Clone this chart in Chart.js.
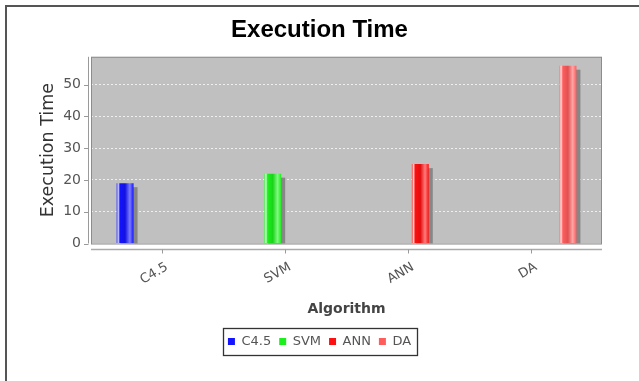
<!DOCTYPE html>
<html><head><meta charset="utf-8">
<script src="https://cdn.jsdelivr.net/npm/chart.js@4.4.0/dist/chart.umd.min.js"></script>
<style>html,body{margin:0;padding:0;background:#fff;overflow:hidden;}</style>
</head><body>
<canvas id="c" width="639" height="381"></canvas>
<script>
// ---- data ----
const categories = ['C4.5', 'SVM', 'ANN', 'DA'];
const executionTime = [19, 22, 25, 56];
const yTickValues = [0, 10, 20, 30, 40, 50];
const seriesColors = ['#1414ff', '#1cf01c', '#ff1010', '#ff5c5c'];

function hexToRgb(h) {
  h = h.replace('#', '');
  return [parseInt(h.substr(0, 2), 16), parseInt(h.substr(2, 2), 16), parseInt(h.substr(4, 2), 16)];
}
function mix(hex, target, t) {
  const c = hexToRgb(hex);
  const r = c.map((v, i) => Math.round(v + (target[i] - v) * t));
  return 'rgb(' + r.join(',') + ')';
}
function barGradient(ctx, left, right, color) {
  const g = ctx.createLinearGradient(left, 0, right, 0);
  g.addColorStop(0, mix(color, [255, 255, 255], 0.15));
  g.addColorStop(0.1, mix(color, [255, 255, 255], 0.8));
  g.addColorStop(0.2, color);
  g.addColorStop(0.5, mix(color, [0, 0, 0], 0.12));
  g.addColorStop(0.78, mix(color, [255, 255, 255], 0.45));
  g.addColorStop(1, color);
  return g;
}

const datasets = categories.map((name, i) => ({
  label: name,
  data: [{ x: i, y: executionTime[i] }],
  backgroundColor: () => seriesColors[i],
  borderWidth: 0,
  categoryPercentage: 0.8,
  barPercentage: 0.69
}));

const decor = {
  id: 'decor',
  beforeDraw(chart) {
    const { ctx, chartArea: a } = chart;
    ctx.save();
    ctx.fillStyle = '#ffffff';
    ctx.fillRect(0, 0, chart.width, chart.height);
    ctx.strokeStyle = '#555555';
    ctx.lineWidth = 2;
    ctx.strokeRect(6, 6, chart.width + 20, chart.height + 20);
    ctx.fillStyle = '#c0c0c0';
    ctx.fillRect(a.left, a.top, a.right - a.left, a.bottom - a.top);
    ctx.restore();
  },
  beforeDatasetsDraw(chart) {
    const { ctx, chartArea: a } = chart;
    ctx.save();
    ctx.beginPath();
    ctx.rect(a.left, a.top, a.right - a.left, a.bottom - a.top);
    ctx.clip();
    chart.data.datasets.forEach((ds, di) => {
      const meta = chart.getDatasetMeta(di);
      meta.data.forEach(el => {
        const w = el.width, left = el.x - w / 2, top = el.y, h = el.base - el.y;
        ctx.fillStyle = '#878787';
        ctx.fillRect(left + 4, top + 4, w, h);
        try { el.options.backgroundColor = barGradient(ctx, left, left + w, seriesColors[di]); } catch (e) {}
      });
    });
    ctx.restore();
  },
  afterDatasetsDraw(chart) {
    const { ctx, chartArea: a, scales } = chart;
    ctx.save();
    // plot outline
    ctx.strokeStyle = '#8c8c8c';
    ctx.lineWidth = 1;
    ctx.strokeRect(a.left + 0.5, a.top + 0.5, a.right - a.left - 1, a.bottom - a.top);
    // y axis line + ticks
    ctx.strokeStyle = '#9a9a9a';
    ctx.beginPath();
    ctx.moveTo(88.5, a.top);
    ctx.lineTo(88.5, a.bottom);
    scales.y.ticks.forEach(t => {
      const y = Math.round(scales.y.getPixelForValue(t.value)) + 0.5;
      ctx.moveTo(84, y);
      ctx.lineTo(88.5, y);
    });
    ctx.stroke();
    // x axis line + ticks
    ctx.strokeStyle = '#aaaaaa';
    ctx.lineWidth = 1.5;
    ctx.beginPath();
    ctx.moveTo(a.left, a.bottom + 6);
    ctx.lineTo(a.right, a.bottom + 6);
    ctx.stroke();
    ctx.lineWidth = 1;
    ctx.strokeStyle = '#9a9a9a';
    ctx.beginPath();
    scales.x.ticks.forEach(t => {
      const x = Math.round(scales.x.getPixelForValue(t.value)) + 0.5;
      ctx.moveTo(x, a.bottom + 6);
      ctx.lineTo(x, a.bottom + 10);
    });
    ctx.stroke();
    ctx.restore();
  },
  afterDraw(chart) {
    const lg = chart.legend;
    if (!lg || !lg.legendHitBoxes || !lg.legendHitBoxes.length) return;
    const hb = lg.legendHitBoxes;
    const l = Math.min(...hb.map(b => b.left)) - 5;
    const r = Math.max(...hb.map(b => b.left + b.width)) + 6;
    const t = hb[0].top - 7;
    const b = hb[0].top + hb[0].height + 7;
    const ctx = chart.ctx;
    ctx.save();
    ctx.strokeStyle = '#333333';
    ctx.lineWidth = 1.3;
    ctx.strokeRect(Math.round(l) + 0.5, Math.round(t) + 0.5, Math.round(r - l), Math.round(b - t));
    ctx.restore();
  }
};

new Chart(document.getElementById('c'), {
  type: 'bar',
  data: { datasets },
  plugins: [decor],
  options: {
    responsive: false,
    maintainAspectRatio: false,
    animation: false,
    devicePixelRatio: 1,
    events: [],
    layout: { padding: { left: 0, right: 0, top: 7, bottom: 23 } },
    plugins: {
      title: {
        display: true,
        text: 'Execution Time',
        color: '#000000',
        font: { family: 'Liberation Sans', size: 24, weight: 'bold' },
        padding: { top: 9, bottom: 12 }
      },
      legend: {
        display: true,
        position: 'bottom',
        labels: {
          boxWidth: 7,
          boxHeight: 7,
          padding: 8,
          color: '#555555',
          font: { family: 'DejaVu Sans', size: 13 },
          generateLabels: () => categories.map((name, i) => ({
            text: name, fillStyle: seriesColors[i], strokeStyle: seriesColors[i],
            lineWidth: 0, hidden: false, datasetIndex: i, fontColor: '#555555'
          }))
        }
      },
      tooltip: { enabled: false }
    },
    scales: {
      x: {
        type: 'linear',
        position: 'bottom',
        offset: false,
        min: -0.5 - 0.077,
        max: categories.length - 0.5 + 0.077,
        afterBuildTicks: s => { s.ticks = categories.map((_, i) => ({ value: i })); },
        afterFit: s => { s.height = 83.5; },
        ticks: {
          callback: v => categories[v],
          minRotation: 30, maxRotation: 30, autoSkip: false,
          padding: 8, labelOffset: 5,
          color: '#555555',
          font: { family: 'DejaVu Sans', size: 13 }
        },
        grid: { display: false, offset: false },
        border: { display: false },
        title: {
          display: true, text: 'Algorithm', color: '#444444',
          font: { family: 'DejaVu Sans', size: 14, weight: 'bold' },
          padding: { top: 0, bottom: 9 }
        }
      },
      y: {
        type: 'linear',
        position: 'left',
        min: 0,
        max: Math.max(...executionTime) * 1.05,
        afterBuildTicks: s => { s.ticks = yTickValues.map(v => ({ value: v })); },
        afterFit: s => { s.width = 91; },
        ticks: {
          padding: 10, color: '#555555',
          font: { family: 'DejaVu Sans', size: 14 }
        },
        grid: {
          drawTicks: false,
          color: c => (c.tick && c.tick.value === 0) ? 'rgba(0,0,0,0)' : 'rgba(255,255,255,0.75)',
          lineWidth: 1
        },
        border: { display: false, dash: [2, 2] },
        title: {
          display: true, text: 'Execution Time', color: '#333333',
          font: { family: 'DejaVu Sans', size: 17.5 },
          padding: { top: 38, bottom: 0 }
        }
      },
      yRight: {
        type: 'linear',
        position: 'right',
        display: true,
        afterFit: s => { s.width = 37; },
        ticks: { display: false },
        grid: { display: false, drawOnChartArea: false },
        border: { display: false }
      }
    }
  }
});
</script>
</body></html>
